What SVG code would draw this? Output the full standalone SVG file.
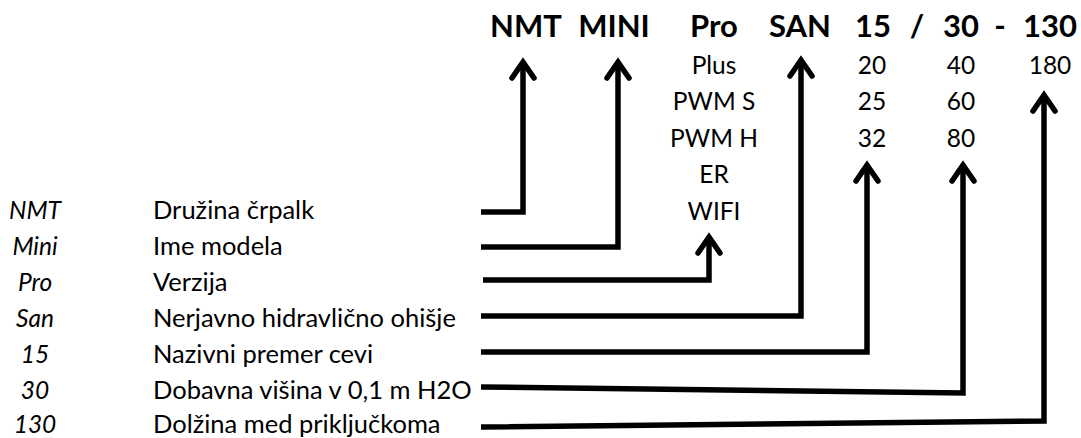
<svg xmlns="http://www.w3.org/2000/svg" width="1081" height="438" viewBox="0 0 1081 438">
<style>
text{font-family:Lato,'Open Sans',sans-serif;fill:#000}
.t{font-size:31px;font-weight:bold;text-anchor:middle}
.o{font-size:24.5px;text-anchor:middle}
.k{font-size:24.5px;font-style:italic;text-anchor:middle}
.d{font-size:25.5px}
.c{fill:none;stroke:#000;stroke-width:5.5;stroke-linejoin:miter;marker-end:url(#ah)}
</style>
<defs>
<marker id="ah" markerUnits="userSpaceOnUse" viewBox="-20 -15 30 30" markerWidth="30" markerHeight="30" refX="0" refY="0" orient="auto" overflow="visible">
<path d="M-15,-11 L1,0 L-15,11" fill="none" stroke="#000" stroke-width="5.5" stroke-linecap="round" stroke-linejoin="miter"/>
</marker>
</defs>
<rect width="1081" height="438" fill="#fff"/>
<g id="title">
<text class="t" x="526" y="37">NMT</text>
<text class="t" x="614" y="37">MINI</text>
<text class="t" x="714" y="37">Pro</text>
<text class="t" x="800" y="37">SAN</text>
<text class="t" x="873" y="37">15</text>
<text class="t" x="917" y="37">/</text>
<text class="t" x="961" y="37">30</text>
<text class="t" x="1000" y="37">-</text>
<text class="t" x="1050" y="37">130</text>
</g>
<g id="versions">
<text class="o" x="714" y="74">Plus</text>
<text class="o" x="714" y="110">PWM S</text>
<text class="o" x="714" y="147">PWM H</text>
<text class="o" x="714" y="183">ER</text>
<text class="o" x="714" y="220">WIFI</text>
</g>
<g id="diameters">
<text class="o" x="872" y="74">20</text>
<text class="o" x="872" y="110">25</text>
<text class="o" x="872" y="147">32</text>
</g>
<g id="heads">
<text class="o" x="961" y="74">40</text>
<text class="o" x="961" y="110">60</text>
<text class="o" x="961" y="147">80</text>
</g>
<g id="lengths">
<text class="o" x="1050" y="74">180</text>
</g>
<g id="legend-nmt"><text class="k" x="35" y="219">NMT</text><text class="d" x="153" y="219">Družina črpalk</text></g>
<g id="legend-mini"><text class="k" x="35" y="255">Mini</text><text class="d" x="153" y="255">Ime modela</text></g>
<g id="legend-pro"><text class="k" x="35" y="291">Pro</text><text class="d" x="153" y="291">Verzija</text></g>
<g id="legend-san"><text class="k" x="35" y="327">San</text><text class="d" x="153" y="327">Nerjavno hidravlično ohišje</text></g>
<g id="legend-15"><text class="k" x="35" y="363">15</text><text class="d" x="153" y="363">Nazivni premer cevi</text></g>
<g id="legend-30"><text class="k" x="35" y="399">30</text><text class="d" x="153" y="399">Dobavna višina v 0,1 m H2O</text></g>
<g id="legend-130"><text class="k" x="35" y="433">130</text><text class="d" x="153" y="433">Dolžina med priključkoma</text></g>
<g id="connectors">
<polyline class="c" points="481,212 523,212 523,63"/>
<polyline class="c" points="481,247 618,247 618,63"/>
<polyline class="c" points="483,280 709,280 709,238"/>
<polyline class="c" points="481,316 801,316 801,61"/>
<polyline class="c" points="481,352 867,352 867,166"/>
<polyline class="c" points="481,387 963,393 963,166"/>
<polyline class="c" points="481,427 1044,421 1044,96"/>
</g>
</svg>
